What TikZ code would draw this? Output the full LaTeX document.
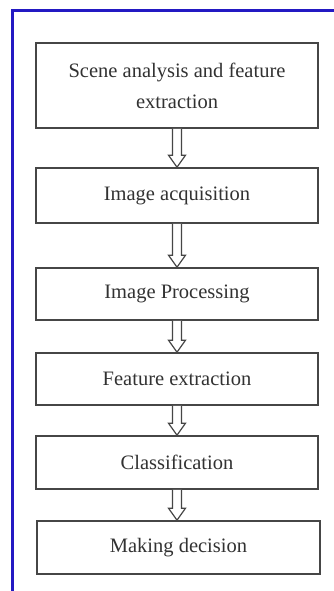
\documentclass[tikz,border=0pt]{standalone}
\usepackage{fontspec}
\setmainfont{Liberation Serif}
\usetikzlibrary{calc}
\definecolor{frameblue}{RGB}{35,25,195}
\definecolor{boxgray}{RGB}{70,70,70}
\definecolor{txtgray}{RGB}{50,50,50}
\tikzset{
  stepbox/.style={draw=boxgray, line width=1.6pt, rectangle, inner sep=0pt,
    minimum width=282pt, align=center, text=txtgray,
    font=\fontsize{20.5}{31}\selectfont},
  hollowarrow/.style={draw=boxgray, line width=1.2pt, fill=white, line join=miter}
}
\newcommand{\hollowarr}[2]{%
  \coordinate (tip) at (#1.south |- #2.north);
  \draw[hollowarrow]
    ($(#1.south)+(-4.5pt,0)$) -- ($(tip)+(-4.5pt,12pt)$) --
    ($(tip)+(-8.5pt,12pt)$) -- (tip) --
    ($(tip)+(8.5pt,12pt)$) -- ($(tip)+(4.5pt,12pt)$) --
    ($(#1.south)+(4.5pt,0)$);}
\begin{document}
\begin{tikzpicture}[x=1pt,y=1pt]
\useasboundingbox (0,0) rectangle (334,-591);
\fill[white] (0,0) rectangle (334,-591);
\coordinate (fa) at (12,-591);
\coordinate (fb) at (12,-11);
\coordinate (fc) at (334,-11);
\draw[frameblue, line width=3pt] (fa) -- (fb) -- (fc);
\node[stepbox, minimum height=85pt] (b1) at (177,-85.5) {Scene analysis and feature\\extraction};
\node[stepbox, minimum height=55pt] (b2) at (177,-195.5) {Image acquisition};
\node[stepbox, minimum height=52pt] (b3) at (177,-294) {Image Processing};
\node[stepbox, minimum height=52pt] (b4) at (177,-379) {Feature extraction};
\node[stepbox, minimum height=53pt] (b5) at (177,-462.5) {Classification};
\node[stepbox, minimum height=53pt, minimum width=283pt] (b6) at (178.5,-547.5) {Making decision};
\hollowarr{b1}{b2}
\hollowarr{b2}{b3}
\hollowarr{b3}{b4}
\hollowarr{b4}{b5}
\hollowarr{b5}{b6}
\end{tikzpicture}
\end{document}
